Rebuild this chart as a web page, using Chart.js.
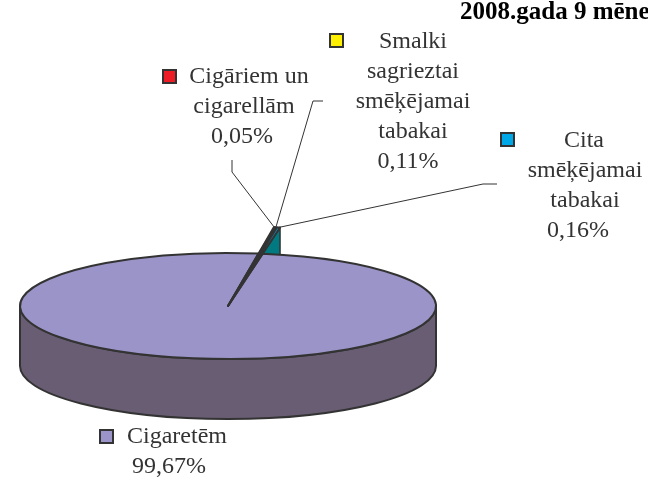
<!DOCTYPE html>
<html>
<head>
<meta charset="utf-8">
<script src="https://cdn.jsdelivr.net/npm/chart.js@4.4.1/dist/chart.umd.min.js"></script>
<style>
  html, body { margin: 0; padding: 0; background: #fff; }
  #wrap { width: 648px; height: 478px; position: relative; }
</style>
</head>
<body>
<div id="wrap"><canvas id="pie" width="648" height="478"></canvas></div>
<script>
// Data
const titleText = '2008.gada 9 mēnešos';
const categories = ['Cigaretēm', 'Cigāriem un cigarellām', 'Smalki sagrieztai smēķējamai tabakai', 'Cita smēķējamai tabakai'];
const shares = [99.67, 0.05, 0.11, 0.16];
const labelLines = [
    ['Cigaretēm'],
    ['Cigāriem un', 'cigarellām'],
    ['Smalki', 'sagrieztai', 'smēķējamai', 'tabakai'],
    ['Cita', 'smēķējamai', 'tabakai']
];

// Styles
const topColors = ['#9b94c8', '#ee1c24', '#fff000', '#00a8e8'];
const sideColors = ['#695d73', '#8a1015', '#8a8000', '#007a80'];
const edgeColor = '#333333';
const TILT = 0.255;      // vertical squash of the pie top
const DEPTH = 60;        // height of the pie wall, px
const RAISE = 1.5;       // small slices drawn longer (exploded look)

// label layout: key square, line anchors (center x, baseline y), leader line start
const labelLayout = [
    { key: [100, 430], lines: [[177, 443], [169, 473]], leader: null },
    { key: [163, 70], lines: [[249, 83], [244, 113], [242, 143]], leader: [[232, 160], [232, 172]] },
    { key: [330, 34], lines: [[413, 48], [413, 78], [413, 108], [413, 138], [408, 168]], leader: [[323, 101], [313, 101]] },
    { key: [501, 133], lines: [[584, 147], [585, 177], [585, 207], [578, 237]], leader: [[497, 184], [483, 184]] }
];

const fmtPct = v => v.toFixed(2).replace('.', ',') + '%';

const pie3d = {
    id: 'pie3d',
    beforeDatasetsDraw(chart) {
        const ctx = chart.ctx;
        const arcs = chart.getDatasetMeta(0).data;
        const cx = arcs[0].x, cy = arcs[0].y;

        const pt = (ang, r, dy) => [cx + r * Math.cos(ang), cy + dy + r * TILT * Math.sin(ang)];
        const wedge = (a, r, dy) => {
            ctx.beginPath();
            ctx.moveTo(cx, cy + dy);
            ctx.ellipse(cx, cy + dy, r, r * TILT, 0, a.startAngle, a.endAngle);
            ctx.closePath();
        };

        ctx.save();
        ctx.lineJoin = 'round';
        ctx.strokeStyle = edgeColor;

        // cut faces of the small raised slices (mostly hidden behind the big slice)
        ctx.lineWidth = 1.5;
        arcs.forEach((a, i) => {
            if (i === 0) return;
            const r = a.outerRadius * RAISE;
            const p = pt(a.endAngle, r, 0);
            ctx.beginPath();
            ctx.moveTo(cx, cy);
            ctx.lineTo(p[0], p[1]);
            ctx.lineTo(p[0], p[1] + DEPTH);
            ctx.lineTo(cx, cy + DEPTH);
            ctx.closePath();
            ctx.fillStyle = sideColors[i];
            ctx.fill();
            ctx.stroke();
        });

        // front wall of the big slice (part facing the viewer: 0..PI)
        ctx.lineWidth = 2;
        const a0 = arcs[0];
        const r0 = a0.outerRadius;
        for (let k = -1; k <= 1; k++) {
            const lo = Math.max(a0.startAngle, k * 2 * Math.PI);
            const hi = Math.min(a0.endAngle, k * 2 * Math.PI + Math.PI);
            if (hi <= lo) continue;
            const p1 = pt(hi, r0, DEPTH);
            ctx.beginPath();
            ctx.ellipse(cx, cy, r0, r0 * TILT, 0, lo, hi);
            ctx.lineTo(p1[0], p1[1]);
            ctx.ellipse(cx, cy + DEPTH, r0, r0 * TILT, 0, hi, lo, true);
            ctx.closePath();
            ctx.fillStyle = sideColors[0];
            ctx.fill();
            ctx.stroke();
        }

        // top of the big slice
        wedge(a0, r0, 0);
        ctx.fillStyle = topColors[0];
        ctx.fill();
        ctx.stroke();

        // tops of the small slices
        arcs.forEach((a, i) => {
            if (i === 0) return;
            wedge(a, a.outerRadius * RAISE, 0);
            ctx.fillStyle = topColors[i];
            ctx.fill();
            ctx.stroke();
        });
        ctx.restore();
        return false;
    }
};

const labelsPlugin = {
    id: 'labels3d',
    afterDraw(chart) {
        const ctx = chart.ctx;
        const arcs = chart.getDatasetMeta(0).data;
        const cx = arcs[0].x, cy = arcs[0].y;
        ctx.save();

        // title (cut by the right edge as in the original)
        ctx.fillStyle = '#000';
        ctx.font = 'bold 25px "Liberation Serif", "Times New Roman", serif';
        ctx.textAlign = 'left';
        ctx.textBaseline = 'alphabetic';
        ctx.fillText(titleText, 460, 19);

        // leader lines
        ctx.strokeStyle = edgeColor;
        ctx.lineWidth = 1;
        labelLayout.forEach((l, i) => {
            if (!l.leader) return;
            const a = arcs[i];
            const mid = (a.startAngle + a.endAngle) / 2;
            const r = a.outerRadius * RAISE;
            ctx.beginPath();
            ctx.moveTo(l.leader[0][0], l.leader[0][1]);
            ctx.lineTo(l.leader[1][0], l.leader[1][1]);
            ctx.lineTo(cx + r * Math.cos(mid), cy + r * TILT * Math.sin(mid));
            ctx.stroke();
        });

        // label texts with legend keys
        ctx.font = '24px "Liberation Serif", "Times New Roman", serif';
        ctx.textAlign = 'center';
        labelLayout.forEach((l, i) => {
            ctx.fillStyle = topColors[i];
            ctx.fillRect(l.key[0], l.key[1], 13, 13);
            ctx.lineWidth = 2;
            ctx.strokeStyle = edgeColor;
            ctx.strokeRect(l.key[0], l.key[1], 13, 13);
            const texts = labelLines[i].concat([fmtPct(shares[i])]);
            ctx.fillStyle = '#333';
            texts.forEach((t, j) => ctx.fillText(t, l.lines[j][0], l.lines[j][1]));
        });
        ctx.restore();
    }
};

new Chart(document.getElementById('pie'), {
    type: 'pie',
    data: {
        labels: categories,
        datasets: [{
            data: shares,
            backgroundColor: topColors,
            borderWidth: 0,
            radius: 208,
            rotation: 9.6
        }]
    },
    options: {
        responsive: false,
        animation: false,
        layout: { padding: { left: 0, right: 192, top: 134, bottom: 0 } },
        plugins: {
            legend: { display: false },
            tooltip: { enabled: false }
        }
    },
    plugins: [pie3d, labelsPlugin]
});
</script>
</body>
</html>
